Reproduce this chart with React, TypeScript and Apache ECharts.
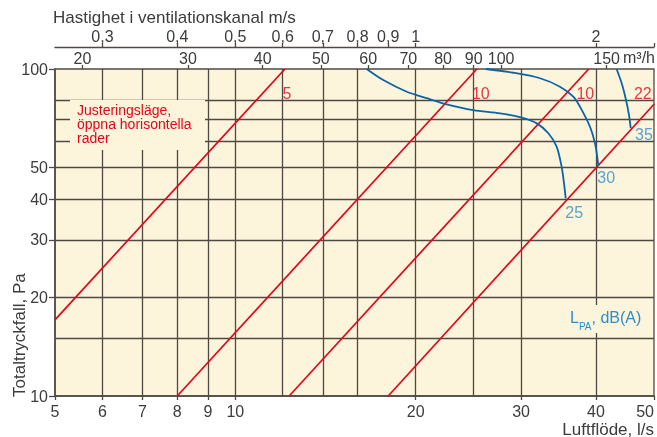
import React, { useEffect, useRef } from "react";
import * as echarts from "echarts";

// Bottom axis: air flow, l/s (log)
const flowTicks = [5, 6, 7, 8, 9, 10, 20, 30, 40, 50];
const flowGrid = [6, 7, 8, 9, 10, 12, 14, 16, 20, 25, 30, 40];
// Left axis: total pressure drop, Pa (log)
const pressureTicks = [10, 20, 30, 40, 50, 100];
const pressureGrid = [15, 20, 30, 40, 50, 60, 70, 80];
// Top axes
const m3hTicks = [20, 30, 40, 50, 60, 70, 80, 90, 100, 150];
const velocityTicks = [0.3, 0.4, 0.5, 0.6, 0.7, 0.8, 0.9, 1, 2];
const velocityEndTick = [2.5];
const M3H_PER_LS = 3.6;
const MS_PER_LS = 0.05;

// Damper setting lines (red), [l/s, Pa]
const damper5 = [[5, 17.1], [12.1, 100]];
const damper10a = [[8, 10], [25.3, 100]];
const damper10b = [[12.3, 10], [38.9, 100]];
const damper22 = [[18, 10], [50, 78]];

// Sound level curves LPA dB(A) (blue), [l/s, Pa]
const noise25 = [
  [16.57, 100], [17.66, 92.5], [19.33, 85.2], [20.87, 81.4], [22.53, 78.0],
  [24.96, 74.9], [27.67, 73.2], [29.87, 71.2], [31.86, 68.2], [33.31, 63.6],
  [34.39, 57.9], [35.06, 50.2], [35.38, 44.7], [35.61, 40.2],
];
const noise30 = [
  [26.2, 100], [29.11, 97.4], [32.26, 93.7], [34.83, 88.3], [36.66, 82.3],
  [37.61, 76.7], [39.09, 66.6], [39.85, 59.3], [40.2, 53.9], [40.36, 50.5],
];
const noise35 = [
  [43.3, 100], [44.16, 90.4], [44.9, 80.4], [45.42, 72.3], [45.72, 65.9],
];

const damperLabels = [
  { name: "5", value: [12.2, 84.4] },
  { name: "10", value: [25.7, 84.4] },
  { name: "10", value: [38.4, 84.4] },
  { name: "22", value: [47.9, 84.4] },
];
const noiseLabels = [
  { name: "25", value: [36.8, 36.3] },
  { name: "30", value: [41.6, 46.7] },
  { name: "35", value: [48.1, 63.2] },
];

const FONT = "'Liberation Sans', Arial, sans-serif";
const TXT = "#3c3c3c";
const GRIDC = "#4f4943";
const BG = "#fdf4dc";
const RED = "#e3061b";
const BLUE = "#0b64a8";
const LBLUE = "#2a8fd0";

export default function App() {
  const ref = useRef<HTMLDivElement>(null);
  useEffect(() => {
    if (!ref.current) return;
    const chart = echarts.init(ref.current, null, { renderer: "svg" });
    const fmtComma = (v: number) => String(v).replace(".", ",");
    const redLine = (d: number[][]) => ({
      type: "line", data: d, symbol: "none", z: 5, silent: true,
      lineStyle: { color: RED, width: 1.7 },
    });
    const blueLine = (d: number[][]) => ({
      type: "line", data: d, symbol: "none", smooth: 0.3, z: 6, silent: true,
      lineStyle: { color: BLUE, width: 1.8 },
    });
    chart.setOption({
      animation: false,
      textStyle: { fontFamily: FONT },
      grid: {
        left: 55, right: 3, top: 69, bottom: 41, show: true, containLabel: false,
        outerBoundsMode: "none",
        backgroundColor: BG, borderColor: GRIDC, borderWidth: 1.3,
      },
      xAxis: [
        {
          type: "log", logBase: 10, min: 5, max: 50, position: "bottom",
          axisLine: { show: true, lineStyle: { color: GRIDC, width: 1.5 } },
          axisTick: { show: true, customValues: flowTicks, length: 4, lineStyle: { color: GRIDC, width: 1.3 } },
          axisLabel: { customValues: flowTicks, color: TXT, fontSize: 16, margin: 7, fontFamily: FONT, alignMaxLabel: "right" },
          splitLine: { show: false },
        },
        {
          type: "log", logBase: 10, min: 5 * M3H_PER_LS, max: 50 * M3H_PER_LS, position: "top",
          axisLine: { show: false },
          axisTick: { show: true, customValues: m3hTicks, length: 4, lineStyle: { color: GRIDC, width: 1.3 } },
          axisLabel: { customValues: m3hTicks, color: TXT, fontSize: 16, margin: 3, fontFamily: FONT },
          splitLine: { show: false },
        },
        {
          type: "log", logBase: 10, min: 5 * MS_PER_LS, max: 50 * MS_PER_LS, position: "top", offset: 22,
          axisLine: { show: true, lineStyle: { color: GRIDC, width: 1.3 } },
          axisTick: { show: true, customValues: [...velocityTicks, ...velocityEndTick], length: 4, lineStyle: { color: GRIDC, width: 1.3 } },
          axisLabel: { customValues: velocityTicks, color: TXT, fontSize: 16, margin: 3, fontFamily: FONT, formatter: (v: number) => fmtComma(v) },
          splitLine: { show: false },
        },
      ],
      yAxis: {
        type: "log", logBase: 10, min: 10, max: 100,
        axisLine: { show: true, lineStyle: { color: GRIDC, width: 1.5 } },
        axisTick: { show: true, customValues: pressureTicks, length: 6, lineStyle: { color: GRIDC, width: 1.3 } },
        axisLabel: { customValues: pressureTicks, color: TXT, fontSize: 16, margin: 7, fontFamily: FONT },
        splitLine: { show: false },
      },
      graphic: {
        z: 3,
        elements: [
          { type: "text", z: 4, left: 53, top: 9, style: { text: "Hastighet i ventilationskanal m/s", fill: TXT, font: `17px ${FONT}` } },
          { type: "text", z: 4, x: 655, y: 57, style: { text: "m³/h", fill: TXT, font: `16px ${FONT}`, align: "right", verticalAlign: "middle" } },
          { type: "text", z: 4, x: 654, y: 429, style: { text: "Luftflöde, l/s", fill: TXT, font: `17px ${FONT}`, align: "right", verticalAlign: "middle" } },
          { type: "text", z: 4, x: 19, y: 397, rotation: Math.PI / 2, style: { text: "Totaltryckfall, Pa", fill: TXT, font: `17px ${FONT}`, align: "left", verticalAlign: "middle" } },
          { type: "rect", z: 3, silent: true, shape: { x: 70, y: 100, width: 135, height: 50 }, style: { fill: BG } },
          {
            type: "text", z: 4, x: 77, y: 103,
            style: {
              text: "{a|Justeringsläge,}\n{a|öppna horisontella}\n{a|rader}",
              rich: { a: { fontSize: 14, lineHeight: 14, fill: RED, fontFamily: FONT } },
              align: "left", verticalAlign: "top",
            },
          },
          { type: "rect", z: 3, silent: true, shape: { x: 568, y: 305, width: 74, height: 28 }, style: { fill: BG } },
          {
            type: "text", z: 4, x: 570, y: 309,
            style: {
              text: "{a|L}{b|PA}{a|, dB(A)}", align: "left", verticalAlign: "top",
              rich: {
                a: { fontSize: 16, lineHeight: 18, fill: LBLUE, fontFamily: FONT, verticalAlign: "top" },
                b: { fontSize: 10, lineHeight: 10, padding: [12, 0, 0, 0], fill: LBLUE, fontFamily: FONT, verticalAlign: "top" },
              },
            },
          },
        ],
      },
      series: [
        {
          type: "line", data: [], z: 1, silent: true,
          markLine: {
            z: 1, silent: true, symbol: ["none", "none"], label: { show: false },
            lineStyle: { color: GRIDC, width: 1.3, type: "solid" },
            data: [...flowGrid.map((v) => ({ xAxis: v })), ...pressureGrid.map((v) => ({ yAxis: v }))],
          },
        },
        redLine(damper5), redLine(damper10a), redLine(damper10b), redLine(damper22),
        blueLine(noise25), blueLine(noise30), blueLine(noise35),
        {
          type: "scatter", data: damperLabels, symbolSize: 0, z: 7, silent: true,
          label: { show: true, position: "inside", formatter: "{b}", color: RED, fontSize: 16, fontFamily: FONT },
        },
        {
          type: "scatter", data: noiseLabels, symbolSize: 0, z: 7, silent: true,
          label: { show: true, position: "inside", formatter: "{b}", color: LBLUE, fontSize: 16, fontFamily: FONT },
        },
      ],
    });
    return () => chart.dispose();
  }, []);
  return <div ref={ref} style={{ position: "fixed", left: 0, top: 0, width: 657, height: 437 }} />;
}
